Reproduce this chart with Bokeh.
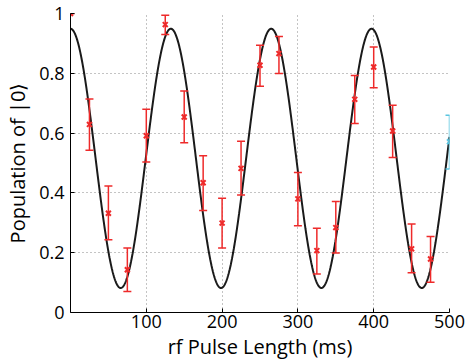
import numpy as np
from bokeh.plotting import figure
from bokeh.models import FixedTicker, Range1d
from bokeh.embed import file_html
from bokeh.resources import INLINE

# measured points (rf pulse length in ms)
t_red = [0, 25, 50, 75, 100, 125, 150, 175, 200, 225, 250, 275, 300, 325, 350, 375, 400, 425, 450, 475]
p_red = [1.0, 0.629, 0.332, 0.143, 0.591, 0.963, 0.654, 0.434, 0.299, 0.482, 0.827, 0.866, 0.380, 0.207, 0.284, 0.713, 0.821, 0.607, 0.213, 0.179]
hi_red = [1.0, 0.714, 0.423, 0.216, 0.680, 0.994, 0.741, 0.524, 0.382, 0.573, 0.894, 0.923, 0.468, 0.282, 0.371, 0.793, 0.888, 0.693, 0.296, 0.254]
lo_red = [1.0, 0.543, 0.243, 0.070, 0.503, 0.930, 0.568, 0.341, 0.216, 0.393, 0.757, 0.799, 0.290, 0.129, 0.199, 0.632, 0.752, 0.518, 0.133, 0.101]

t_cyan = [500]
p_cyan = [0.571]
hi_cyan = [0.660]
lo_cyan = [0.480]

# fitted curve parameters (read from the drawn fit)
FIT_OFFSET = 0.5155
FIT_AMPLITUDE = 0.4335
FIT_PERIOD = 132.4
FIT_T0 = 0.0

x_ticks = [100, 200, 300, 400, 500]
y_ticks = [0, 0.2, 0.4, 0.6, 0.8, 1]
x_label = "rf Pulse Length (ms)"
y_label = "Population of |0\u27e9"

p = figure(width=468, height=362, output_backend="svg", toolbar_location=None,
           x_range=Range1d(0, 500), y_range=Range1d(0, 1),
           min_border_left=70, min_border_right=19, min_border_top=13, min_border_bottom=49)
p.outline_line_color = None
p.background_fill_color = "white"
p.border_fill_color = "white"

tt = np.linspace(0, 500, 1001)
fit = FIT_OFFSET + FIT_AMPLITUDE * np.cos(2 * np.pi * (tt - FIT_T0) / FIT_PERIOD)
p.line(tt, fit, line_color="#1a1a1a", line_width=2)

red = "#ee2a2a"
cyan = "#5bc5e0"
for (t, v, hi, lo, c) in [(t_red, p_red, hi_red, lo_red, red), (t_cyan, p_cyan, hi_cyan, lo_cyan, cyan)]:
    p.segment(t, lo, t, hi, line_color=c, line_width=1.5)
    p.dash(t, hi, size=8, line_color=c, line_width=1.5)
    p.dash(t, lo, size=8, line_color=c, line_width=1.5)
    p.scatter(t, v, marker="x", size=7, line_color=c, line_width=2)

font = "Open Sans"
for ax in (p.xaxis[0], p.yaxis[0]):
    ax.axis_line_color = "black"
    ax.axis_line_width = 1
    ax.major_tick_in = 4
    ax.major_tick_out = 0
    ax.minor_tick_line_color = None
    ax.major_tick_line_color = "black"
    ax.major_label_text_font = font
    ax.major_label_text_font_size = "18px"
    ax.major_label_text_color = "black"
    ax.axis_label_text_font = font
    ax.axis_label_text_font_size = "20px"
    ax.axis_label_text_font_style = "normal"
    ax.axis_label_text_color = "black"

p.xaxis.ticker = FixedTicker(ticks=x_ticks)
p.yaxis.ticker = FixedTicker(ticks=y_ticks)
p.yaxis.major_label_overrides = {0: "0", 1: "1"}
p.xaxis.axis_label = x_label
p.yaxis.axis_label = y_label
p.xaxis.major_label_standoff = 2
p.xaxis.axis_label_standoff = 2
p.yaxis.major_label_standoff = 6
p.yaxis.axis_label_standoff = 5

p.xgrid.ticker = FixedTicker(ticks=x_ticks)
p.ygrid.ticker = FixedTicker(ticks=y_ticks)
for g in (p.xgrid[0], p.ygrid[0]):
    g.grid_line_color = "#888888"
    g.grid_line_dash = "1 3"
    g.grid_line_width = 1

open("out.html", "w").write(file_html(p, INLINE))
